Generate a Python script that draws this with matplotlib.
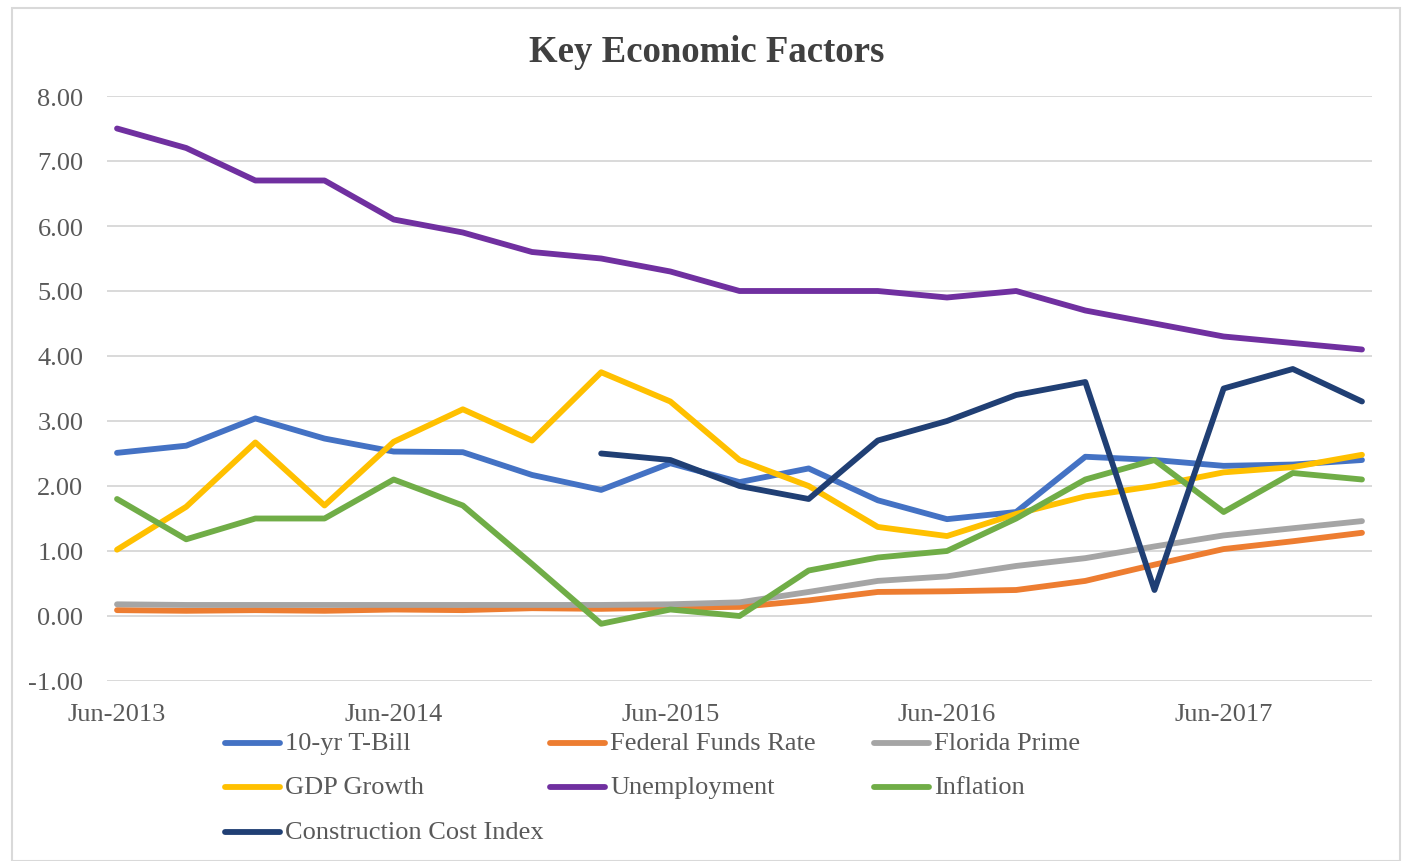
import matplotlib
matplotlib.use("Agg")
import matplotlib.pyplot as plt
from matplotlib.lines import Line2D
from matplotlib.patches import Rectangle
import numpy as np

# quarterly readings, Jun-2013 .. Dec-2017
quarters = ["Jun-2013", "Sep-2013", "Dec-2013", "Mar-2014", "Jun-2014", "Sep-2014",
            "Dec-2014", "Mar-2015", "Jun-2015", "Sep-2015", "Dec-2015", "Mar-2016",
            "Jun-2016", "Sep-2016", "Dec-2016", "Mar-2017", "Jun-2017", "Sep-2017",
            "Dec-2017"]

t_bill = [2.51, 2.62, 3.04, 2.73, 2.53, 2.52, 2.17, 1.94, 2.35, 2.06, 2.27, 1.78,
          1.49, 1.60, 2.45, 2.40, 2.31, 2.33, 2.40]
fed_funds = [0.09, 0.08, 0.09, 0.08, 0.10, 0.09, 0.12, 0.11, 0.13, 0.14, 0.24, 0.37,
             0.38, 0.40, 0.54, 0.79, 1.03, 1.15, 1.28]
florida_prime = [0.18, 0.17, 0.17, 0.17, 0.17, 0.17, 0.17, 0.17, 0.18, 0.21, 0.37, 0.54,
                 0.61, 0.77, 0.89, 1.07, 1.24, 1.35, 1.46]
gdp_growth = [1.02, 1.68, 2.67, 1.70, 2.68, 3.18, 2.70, 3.75, 3.30, 2.40, 2.00, 1.37,
              1.23, 1.57, 1.84, 2.00, 2.21, 2.29, 2.48]
unemployment = [7.5, 7.2, 6.7, 6.7, 6.1, 5.9, 5.6, 5.5, 5.3, 5.0, 5.0, 5.0,
                4.9, 5.0, 4.7, 4.5, 4.3, 4.2, 4.1]
inflation = [1.8, 1.18, 1.5, 1.5, 2.1, 1.7, 0.8, -0.12, 0.1, 0.0, 0.7, 0.9,
             1.0, 1.5, 2.1, 2.4, 1.6, 2.2, 2.1]
cci = [None, None, None, None, None, None, None, 2.5, 2.4, 2.0, 1.8, 2.7,
       3.0, 3.4, 3.6, 0.4, 3.5, 3.8, 3.3]

series = [
    ("10-yr T-Bill", t_bill, "#4472C4"),
    ("Federal Funds Rate", fed_funds, "#ED7D31"),
    ("Florida Prime", florida_prime, "#A5A5A5"),
    ("GDP Growth", gdp_growth, "#FFC000"),
    ("Unemployment", unemployment, "#7030A0"),
    ("Inflation", inflation, "#70AD47"),
    ("Construction Cost Index", cci, "#203F74"),
]

text_color = "#595959"
plt.rcParams["font.family"] = ["Liberation Serif", "DejaVu Serif"]

W, H = 1403, 862
fig = plt.figure(figsize=(W / 100, H / 100), dpi=100)
fig.patch.set_facecolor("white")

# chart border
fig.add_artist(Rectangle((12 / W, 0), 1388 / W, 1 - 9 / H, transform=fig.transFigure,
                         fill=False, edgecolor="#D9D9D9", linewidth=1.5))

ax = fig.add_axes([107 / W, 1 - 682 / H, (1372 - 107) / W, (682 - 97) / H])

x = np.arange(len(quarters))
# later series are drawn on top
for label, vals, color in series:
    y = np.array([np.nan if v is None else v for v in vals], dtype=float)
    ax.plot(x, y, color=color, linewidth=4.2, solid_capstyle="round",
            solid_joinstyle="round", label=label, zorder=3)

ax.set_xlim(-0.145, 18.145)
ax.set_ylim(-1, 8)
ax.set_yticks(np.arange(-1, 9, 1))
ax.set_yticklabels([f"{v:.2f}" for v in np.arange(-1, 9, 1)])
ax.set_xticks(x[::4])
ax.set_xticklabels(quarters[::4])
ax.grid(axis="y", color="#D9D9D9", linewidth=1.4, zorder=0)
for s in ax.spines.values():
    s.set_visible(False)
ax.tick_params(axis="both", length=0, labelsize=19, labelcolor=text_color)
ax.tick_params(axis="y", pad=17)
ax.tick_params(axis="x", pad=16)

fig.text(707 / W, 1 - 52 / H, "Key Economic Factors", ha="center", va="center",
         fontsize=26.5, fontweight="bold", color="#404040")

# legend laid out in three columns, row by row
col_x = [225, 550, 874]
row_y = [744, 788, 833]
for k, (label, vals, color) in enumerate(series):
    r, c = divmod(k, 3)
    x0 = col_x[c]
    yy = 1 - row_y[r] / H
    fig.add_artist(Line2D([x0 / W, (x0 + 55) / W], [yy, yy], transform=fig.transFigure,
                          color=color, linewidth=4.2, solid_capstyle="round"))
    fig.text((x0 + 60) / W, yy, label, ha="left", va="center", fontsize=19,
             color=text_color)

fig.savefig("out.png", dpi=100)
